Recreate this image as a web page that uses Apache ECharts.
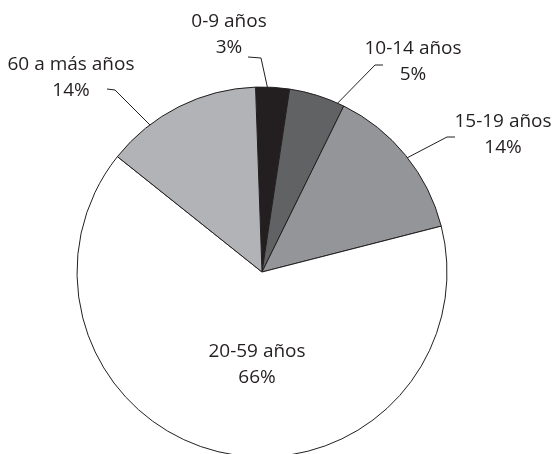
<!DOCTYPE html>
<html><head><meta charset="utf-8">
<script src="https://cdn.jsdelivr.net/npm/echarts@6/dist/echarts.min.js"></script>
<style>html,body{margin:0;padding:0;background:#fff}#c{width:552px;height:454px}</style>
</head><body><div id="c"></div>
<script>
// ---- data ----
const categories = ['0-9 años', '10-14 años', '15-19 años', '20-59 años', '60 a más años'];
const percentValues = [3, 5, 14, 66, 14];

// ---- styles / layout ----
const sliceColors = ['#231f20', '#616264', '#939598', '#ffffff', '#b1b3b6'];
const labelLayoutCfg = [
  { x: 229, y: 35, line: [[248, 57], [261, 58], [268, 90]] },
  { x: 413, y: 62, line: [[383, 65], [375, 65], [326, 115]] },
  { x: 503, y: 135, line: [[455, 137], [447, 137], [403, 160]] },
  { x: 257, y: 365, line: null },
  { x: 71, y: 78, line: [[107, 89], [115, 90], [167, 142]] }
];

const chart = echarts.init(document.getElementById('c'), null, { renderer: 'canvas' });
chart.setOption({
  backgroundColor: '#ffffff',
  animation: false,
  series: [{
    type: 'pie',
    center: [262, 272],
    radius: 185,
    startAngle: 92,
    clockwise: true,
    avoidLabelOverlap: false,
    silent: true,
    itemStyle: { borderColor: '#231f20', borderWidth: 1 },
    label: {
      show: true,
      position: 'outside',
      formatter: '{b}\n{c}%',
      fontFamily: 'Open Sans',
      fontSize: 19,
      lineHeight: 26,
      color: '#231f20'
    },
    labelLine: { show: true, lineStyle: { color: '#231f20', width: 1 } },
    labelLayout: function (p) {
      const a = labelLayoutCfg[p.dataIndex];
      const r = { x: a.x, y: a.y, align: 'center', verticalAlign: 'middle' };
      if (a.line) r.labelLinePoints = a.line;
      return r;
    },
    data: categories.map((name, i) => ({
      name: name,
      value: percentValues[i],
      itemStyle: { color: sliceColors[i] },
      labelLine: { show: labelLayoutCfg[i].line !== null }
    }))
  }]
});
</script>
</body></html>
